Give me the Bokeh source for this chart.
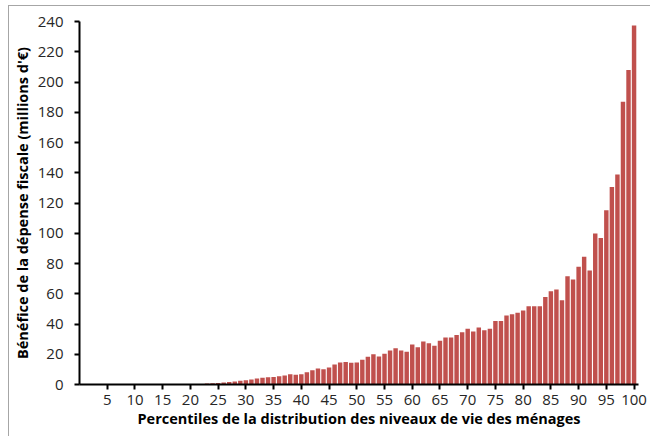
from bokeh.plotting import figure
from bokeh.models import ColumnDataSource, FixedTicker, Range1d
from bokeh.embed import file_html
from bokeh.resources import INLINE

percentiles = list(range(1, 101))
values = [0.0] * 20 + [
    0.3, 0.4, 0.6, 0.8, 1.0, 1.3, 1.6, 2.0, 2.4, 2.8,
    3.3, 3.9, 4.4, 4.8, 5.0, 5.5, 5.9, 6.8, 6.4, 6.8,
    8.1, 9.5, 10.6, 10.1, 11.2, 13.2, 14.5, 14.8, 14.3, 14.6,
    16.3, 18.3, 20.0, 18.5, 20.3, 22.5, 24.0, 22.5, 21.6, 26.4,
    24.7, 28.4, 27.3, 25.6, 28.9, 31.0, 31.0, 32.8, 34.6, 36.8,
    35.0, 37.7, 35.9, 36.8, 42.0, 42.0, 45.6, 46.5, 47.4, 48.9,
    51.8, 51.8, 51.8, 57.9, 61.7, 62.8, 55.7, 71.6, 69.4, 77.8,
    84.4, 75.3, 99.8, 96.9, 115.2, 130.6, 138.8, 187.0, 208.0, 237.4,
]
x_ticks = list(range(5, 101, 5))
y_ticks = list(range(0, 241, 20))
x_title = "Percentiles de la distribution des niveaux de vie des ménages"
y_title = "Bénéfice de la dépense fiscale (millions d'€)"

source = ColumnDataSource(data=dict(p=percentiles, v=values))

p = figure(width=642, height=431, output_backend="svg", toolbar_location=None,
           x_range=Range1d(0, 100.8), y_range=Range1d(0, 240),
           min_border_left=70, min_border_right=13, min_border_top=15, min_border_bottom=53,
           styles={"margin-left": "8px", "margin-top": "5px",
                   "border-left": "1px solid #a6a6a6", "border-top": "1px solid #a6a6a6"})

p.vbar(x="p", top="v", width=0.8, source=source, fill_color="#C0504D",
       line_color=None)

p.grid.visible = False
p.outline_line_color = None

font = "Open Sans"
for ax in (p.xaxis[0], p.yaxis[0]):
    ax.axis_line_color = "black"
    ax.axis_line_width = 2
    ax.major_tick_line_color = "black"
    ax.major_tick_line_width = 2
    ax.major_tick_out = 5
    ax.major_tick_in = 0
    ax.minor_tick_line_color = None
    ax.major_label_text_font = font
    ax.major_label_text_font_size = "15px"
    ax.major_label_text_color = "#262626"
    ax.axis_label_text_font = font
    ax.axis_label_text_font_size = "14.5px"
    ax.axis_label_text_font_style = "bold"
    ax.axis_label_text_color = "black"

p.xaxis[0].ticker = FixedTicker(ticks=x_ticks)
p.yaxis[0].ticker = FixedTicker(ticks=y_ticks)
p.xaxis[0].axis_label = x_title
p.yaxis[0].axis_label = y_title
p.xaxis[0].major_label_standoff = 5
p.yaxis[0].major_label_standoff = 11
p.xaxis[0].axis_label_standoff = 1
p.yaxis[0].axis_label_standoff = 3

open("out.html", "w").write(file_html(p, INLINE))
